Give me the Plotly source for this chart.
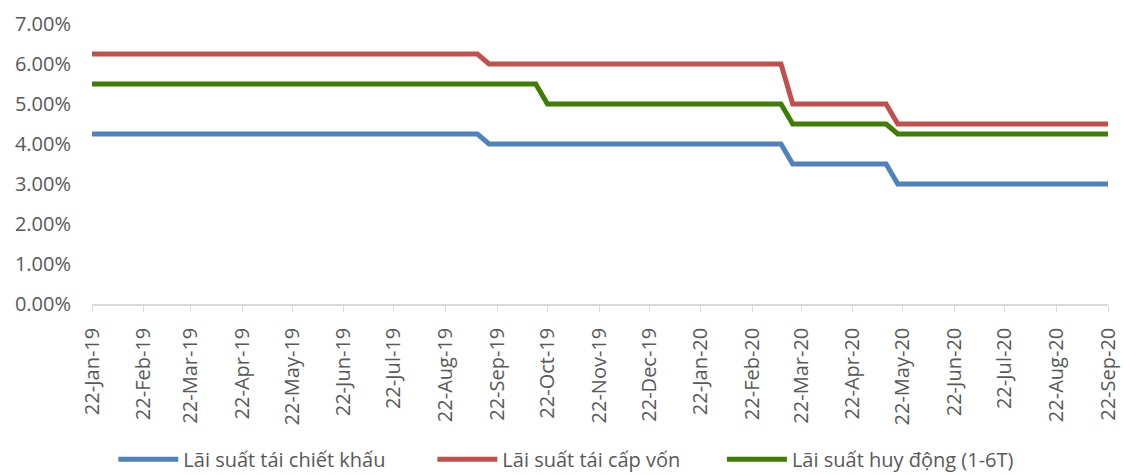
import plotly.graph_objects as go

# Observation dates (weekly series, only the dates around each rate change are kept;
# the rates are flat in between)
dates = [
    "2019-01-22", "2019-09-10", "2019-09-17", "2019-10-15", "2019-10-22",
    "2020-03-10", "2020-03-17", "2020-05-12", "2020-05-19", "2020-09-22",
]

# Policy rates (%)
rediscount_rate = [4.25, 4.25, 4.00, 4.00, 4.00, 4.00, 3.50, 3.50, 3.00, 3.00]
refinancing_rate = [6.25, 6.25, 6.00, 6.00, 6.00, 6.00, 5.00, 5.00, 4.50, 4.50]
deposit_cap_1_6m = [5.50, 5.50, 5.50, 5.50, 5.00, 5.00, 4.50, 4.50, 4.25, 4.25]

series_names = [
    "Lãi suất tái chiết khấu",
    "Lãi suất tái cấp vốn",
    "Lãi suất huy động (1-6T)",
]
series_values = [rediscount_rate, refinancing_rate, deposit_cap_1_6m]
series_colors = ["#4F81BD", "#C0504D", "#3F7D05"]

# Monthly ticks on the 22nd
tick_dates = [
    "2019-01-22", "2019-02-22", "2019-03-22", "2019-04-22", "2019-05-22",
    "2019-06-22", "2019-07-22", "2019-08-22", "2019-09-22", "2019-10-22",
    "2019-11-22", "2019-12-22", "2020-01-22", "2020-02-22", "2020-03-22",
    "2020-04-22", "2020-05-22", "2020-06-22", "2020-07-22", "2020-08-22",
    "2020-09-22",
]
tick_labels = [
    "22-Jan-19", "22-Feb-19", "22-Mar-19", "22-Apr-19", "22-May-19",
    "22-Jun-19", "22-Jul-19", "22-Aug-19", "22-Sep-19", "22-Oct-19",
    "22-Nov-19", "22-Dec-19", "22-Jan-20", "22-Feb-20", "22-Mar-20",
    "22-Apr-20", "22-May-20", "22-Jun-20", "22-Jul-20", "22-Aug-20",
    "22-Sep-20",
]
y_ticks = [0, 1, 2, 3, 4, 5, 6, 7]

FONT = "Open Sans, Liberation Sans, sans-serif"
TEXT_COLOR = "#595959"

# One legend per series so each entry sits at its own spot along the bottom
legend_ids = ["legend", "legend2", "legend3"]
legend_x = [0.021, 0.335, 0.620]

fig = go.Figure()
for name, vals, color, lg in zip(series_names, series_values, series_colors, legend_ids):
    fig.add_trace(go.Scatter(
        x=dates,
        y=[v / 100 for v in vals],
        name=name,
        mode="lines",
        line=dict(color=color, width=5),
        legend=lg,
        hoverinfo="x+y+name",
    ))

legend_style = dict(
    orientation="h",
    xanchor="left",
    y=-0.485,
    yanchor="top",
    font=dict(size=20, color=TEXT_COLOR),
    itemwidth=60,
    bgcolor="rgba(0,0,0,0)",
)

fig.update_layout(
    width=1123,
    height=475,
    margin=dict(l=92, r=15, t=24, b=171, pad=0, autoexpand=False),
    paper_bgcolor="white",
    plot_bgcolor="white",
    font=dict(family=FONT, size=20, color=TEXT_COLOR),
    showlegend=True,
    **{lg: dict(legend_style, x=lx) for lg, lx in zip(legend_ids, legend_x)},
    xaxis=dict(
        type="date",
        range=["2019-01-22", "2020-09-22"],
        tickmode="array",
        tickvals=tick_dates,
        ticktext=tick_labels,
        tickangle=-90,
        ticks="outside",
        ticklen=6,
        tickcolor="#D9D9D9",
        ticklabelstandoff=8,
        showline=True,
        linecolor="#D9D9D9",
        linewidth=1.5,
        showgrid=False,
        zeroline=False,
        tickfont=dict(size=20, color=TEXT_COLOR),
    ),
    yaxis=dict(
        range=[0, 0.07],
        tickmode="array",
        tickvals=[v / 100 for v in y_ticks],
        tickformat=".2%",
        showline=False,
        showgrid=False,
        zeroline=False,
        ticks="",
        ticklabelstandoff=20,
        tickfont=dict(size=20, color=TEXT_COLOR),
    ),
)

fig.write_html("out.html")
